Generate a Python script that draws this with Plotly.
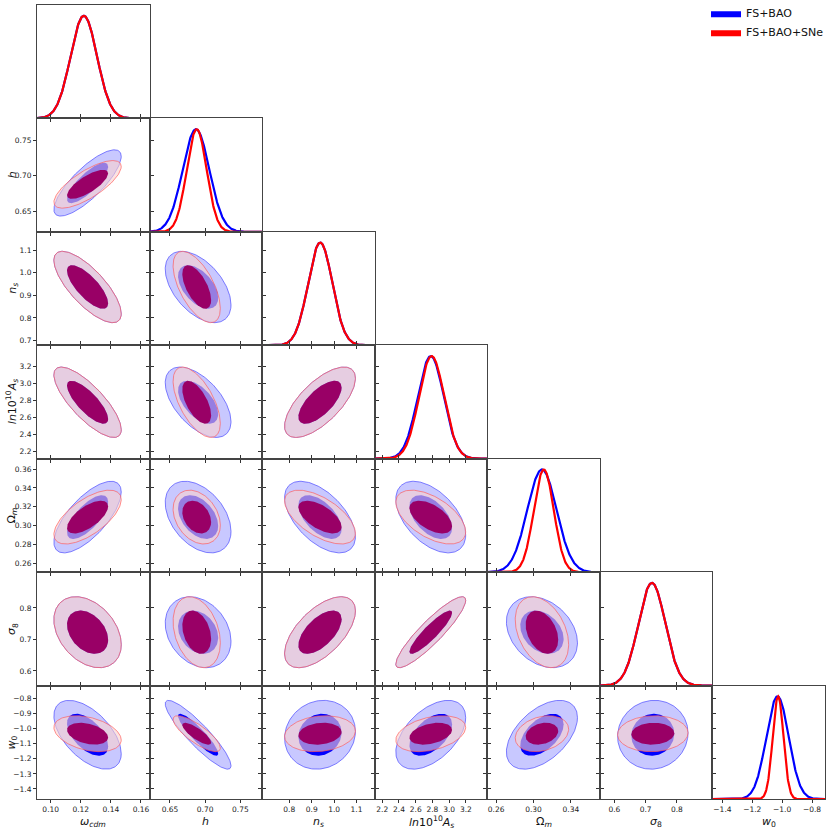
import numpy as np
import plotly.graph_objects as go
from plotly.subplots import make_subplots

# ---------------- data ----------------
labels = ["<i>ω</i><sub><i>cdm</i></sub>", "<i>h</i>", "<i>n</i><sub><i>s</i></sub>",
          "<i>ln</i>10<sup>10</sup><i>A</i><sub><i>s</i></sub>", "Ω<sub><i>m</i></sub>",
          "<i>σ</i><sub>8</sub>", "<i>w</i><sub>0</sub>"]
series = ["FS+BAO", "FS+BAO+SNe"]

# 1D marginal posteriors (peak position, width)
mean1d_blue = [0.122, 0.687, 0.938, 2.780, 0.309, 0.720, -1.031]
sig1d_blue = [0.0088, 0.0190, 0.054, 0.155, 0.0157, 0.043, 0.075]
mean1d_red = [0.122, 0.688, 0.938, 2.790, 0.311, 0.720, -1.027]
sig1d_red = [0.0088, 0.0142, 0.054, 0.150, 0.0107, 0.043, 0.036]

# 2D contour parameters (centre, width, pair correlations)
mean2d_blue = [0.1245, 0.690, 0.937, 2.78, 0.309, 0.723, -1.040]
sig2d_blue = [0.0090, 0.0188, 0.0635, 0.168, 0.0153, 0.0453, 0.092]
mean2d_red = [0.1245, 0.688, 0.937, 2.78, 0.309, 0.723, -1.033]
sig2d_red = [0.0090, 0.0135, 0.0635, 0.168, 0.0115, 0.0453, 0.048]

corr_blue = [
    [1.0],
    [0.80, 1.0],
    [-0.75, -0.50, 1.0],
    [-0.78, -0.55, 0.68, 1.0],
    [0.70, -0.40, -0.55, -0.50, 1.0],
    [-0.35, -0.25, 0.60, 0.90, -0.30, 1.0],
    [-0.55, -0.90, 0.10, 0.50, 0.50, 0.05, 1.0],
]
corr_red = [
    [1.0],
    [0.75, 1.0],
    [-0.75, -0.60, 1.0],
    [-0.78, -0.60, 0.68, 1.0],
    [0.65, -0.30, -0.60, -0.55, 1.0],
    [-0.35, -0.30, 0.60, 0.90, -0.35, 1.0],
    [-0.35, -0.80, 0.15, 0.35, 0.25, 0.05, 1.0],
]

# axis ranges and ticks
ranges = [[0.0909, 0.1657], [0.621, 0.781], [0.679, 1.181], [2.11, 3.456],
          [0.2505, 0.371], [0.5536, 0.9137], [-1.467, -0.713]]
xtick_vals = [[0.10, 0.12, 0.14, 0.16], [0.65, 0.70, 0.75], [0.8, 0.9, 1.0, 1.1],
              [2.2, 2.4, 2.6, 2.8, 3.0, 3.2], [0.26, 0.30, 0.34], [0.6, 0.7, 0.8],
              [-1.4, -1.2, -1.0, -0.8]]
ytick_vals = [[], [0.65, 0.70, 0.75], [0.7, 0.8, 0.9, 1.0, 1.1],
              [2.2, 2.4, 2.6, 2.8, 3.0, 3.2], [0.26, 0.28, 0.30, 0.32, 0.34, 0.36],
              [0.6, 0.7, 0.8], [-1.4, -1.3, -1.2, -1.1, -1.0, -0.9, -0.8]]
tick_decimals = [2, 2, 1, 1, 2, 1, 1]

# ---------------- styles ----------------
BLUE = "#0000ff"
RED = "#ff0000"
blue_outer_fill = "rgb(200,200,255)"
blue_outer_line = "rgba(70,70,255,0.85)"
blue_inner_fill = "rgb(0,0,255)"
red_outer_fill = "rgba(250,208,205,0.6)"
red_outer_line = "rgba(255,90,90,0.85)"
red_inner_fill = "rgb(153,0,102)"
K68, K95 = 2.30, 6.18
N = 7


def fmt(v, d):
    s = f"{abs(v):.{d}f}"
    return ("\u2212" + s) if v < 0 else s


def ellipse(mx, my, sx, sy, rho, k, n=160):
    t = np.linspace(0, 2 * np.pi, n)
    r = np.sqrt(k)
    x = mx + r * sx * np.cos(t)
    y = my + r * sy * (rho * np.cos(t) + np.sqrt(1 - rho ** 2) * np.sin(t))
    return x, y


specs = [[({} if c <= r else None) for c in range(N)] for r in range(N)]
fig = make_subplots(rows=N, cols=N, specs=specs, horizontal_spacing=0, vertical_spacing=0)

tickfont = dict(family="DejaVu Sans", size=7.5, color="#222")

for r in range(N):
    for c in range(r + 1):
        if r == c:
            for m, s, col in [(mean1d_blue[c], sig1d_blue[c], BLUE), (mean1d_red[c], sig1d_red[c], RED)]:
                xs = np.linspace(ranges[c][0], ranges[c][1], 300)
                ys = np.exp(-0.5 * ((xs - m) / s) ** 2)
                fig.add_trace(go.Scatter(x=xs, y=ys, mode="lines", line=dict(color=col, width=2.2),
                                         showlegend=False, hoverinfo="skip"), row=r + 1, col=c + 1)
        else:
            sets = [
                (mean2d_blue, sig2d_blue, corr_blue[r][c], blue_outer_fill, blue_outer_line, blue_inner_fill),
                (mean2d_red, sig2d_red, corr_red[r][c], red_outer_fill, red_outer_line, red_inner_fill),
            ]
            for mean, sig, rho, ofill, oline, ifill in sets:
                ex, ey = ellipse(mean[c], mean[r], sig[c], sig[r], rho, K95)
                fig.add_trace(go.Scatter(x=ex, y=ey, mode="lines", fill="toself", fillcolor=ofill,
                                         line=dict(color=oline, width=0.8), showlegend=False,
                                         hoverinfo="skip"), row=r + 1, col=c + 1)
                ex, ey = ellipse(mean[c], mean[r], sig[c], sig[r], rho, K68)
                fig.add_trace(go.Scatter(x=ex, y=ey, mode="lines", fill="toself", fillcolor=ifill,
                                         line=dict(color=ifill, width=0), showlegend=False,
                                         hoverinfo="skip"), row=r + 1, col=c + 1)

        # axes
        fig.update_xaxes(range=ranges[c], tickvals=xtick_vals[c],
                         ticktext=[fmt(v, tick_decimals[c]) for v in xtick_vals[c]],
                         showticklabels=(r == N - 1), ticks="outside", ticklen=3, tickwidth=1,
                         tickcolor="#333", showline=True, linecolor="#444", linewidth=1,
                         mirror=(True if r == c else "ticks"), showgrid=False, zeroline=False,
                         tickfont=tickfont, row=r + 1, col=c + 1)
        if r == c:
            fig.update_yaxes(range=[0, 1.105], showticklabels=False, ticks="", showline=True,
                             linecolor="#444", linewidth=1, mirror=True, showgrid=False,
                             zeroline=False, row=r + 1, col=c + 1)
        else:
            fig.update_yaxes(range=ranges[r], tickvals=ytick_vals[r],
                             ticktext=[fmt(v, tick_decimals[r]) for v in ytick_vals[r]],
                             showticklabels=(c == 0), ticks="outside", ticklen=3, tickwidth=1,
                             tickcolor="#333", showline=True, linecolor="#444", linewidth=1,
                             mirror="ticks", showgrid=False, zeroline=False,
                             tickfont=tickfont, row=r + 1, col=c + 1)

# legend entries
for name, col in zip(series, [BLUE, RED]):
    fig.add_trace(go.Scatter(x=[None], y=[None], mode="lines", fill="toself", fillcolor=col,
                             line=dict(color=col, width=0), name=name, showlegend=True),
                  row=1, col=1)

# axis titles
ann = []
for j in range(N):
    ann.append(dict(text=labels[j], xref="paper", yref="paper", x=(j + 0.5) / N, y=-0.0285,
                    xanchor="center", yanchor="middle", showarrow=False,
                    font=dict(family="DejaVu Sans", size=11, color="#111")))
for i in range(1, N):
    ann.append(dict(text=labels[i], xref="paper", yref="paper", x=-0.0315, y=1 - (i + 0.5) / N,
                    xanchor="center", yanchor="middle", textangle=-90, showarrow=False,
                    font=dict(family="DejaVu Sans", size=11, color="#111")))

fig.update_layout(
    width=831, height=830,
    margin=dict(l=37, r=6, t=5, b=31, autoexpand=False),
    paper_bgcolor="white", plot_bgcolor="white",
    annotations=ann,
    showlegend=True,
    legend=dict(x=0.849, y=1.008, xanchor="left", yanchor="top", bgcolor="rgba(0,0,0,0)",
                font=dict(family="DejaVu Sans", size=11, color="#111"), tracegroupgap=0),
    font=dict(family="DejaVu Sans"),
)

fig.write_html("out.html", config={"displayModeBar": False},
               post_script="document.body.style.margin='0px';")
